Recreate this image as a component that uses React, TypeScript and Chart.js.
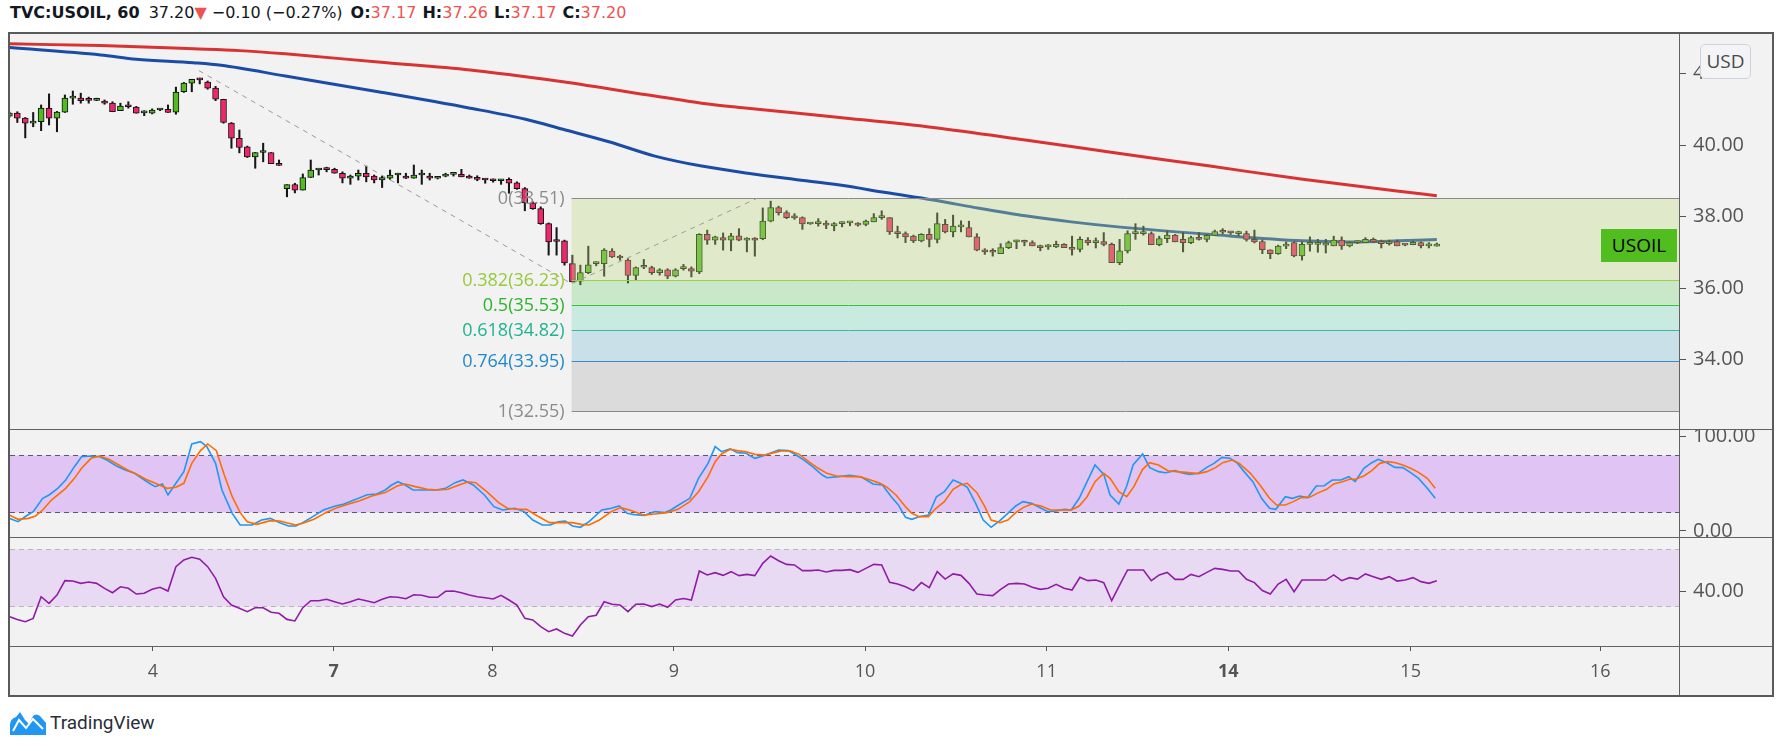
import React, { useEffect, useRef } from 'react';
import { Chart, registerables } from 'chart.js';

Chart.register(...registerables);

// ---------------- data ----------------
const candleOpen = [
  40.81, 40.89, 40.75, 40.61, 40.65, 41.03, 40.75, 40.92, 41.31, 41.31,
  41.27, 41.25, 41.23, 41.17, 40.96, 41.08, 41.06, 40.90, 40.89, 40.98,
  41.00, 40.92, 41.49, 41.73, 41.83, 41.76, 41.59, 41.28, 40.61, 40.19,
  39.95, 39.67, 39.79, 39.79, 39.48, 38.78, 38.89, 38.74, 39.09, 39.30,
  39.32, 39.32, 39.21, 39.07, 39.13, 39.21, 39.13, 39.02, 39.07, 39.16,
  39.13, 39.07, 39.16, 39.13, 39.07, 39.13, 39.18, 39.18, 39.13, 39.06,
  39.04, 39.02, 39.00, 39.04, 38.94, 38.78, 38.38, 38.22, 37.80, 37.31,
  37.32, 36.68, 36.19, 36.43, 36.68, 36.68, 37.03, 36.87, 36.78, 36.35,
  36.58, 36.57, 36.43, 36.51, 36.33, 36.54, 36.54, 36.45, 37.50, 37.34,
  37.41, 37.34, 37.46, 37.34, 37.38, 37.38, 37.87, 38.25, 38.11, 38.01,
  37.97, 37.79, 37.80, 37.80, 37.74, 37.80, 37.82, 37.80, 37.78, 37.85,
  37.97, 37.97, 37.57, 37.52, 37.45, 37.32, 37.50, 37.36, 37.78, 37.57,
  37.71, 37.69, 37.43, 37.07, 37.01, 36.96, 37.13, 37.29, 37.29, 37.27,
  37.19, 37.15, 37.15, 37.22, 37.13, 37.08, 37.34, 37.27, 37.30, 37.22,
  36.71, 37.04, 37.52, 37.52, 37.52, 37.21, 37.38, 37.48, 37.36, 37.27,
  37.41, 37.36, 37.47, 37.57, 37.55, 37.52, 37.52, 37.36, 37.30, 37.07,
  36.96, 37.17, 37.27, 36.90, 37.22, 37.22, 37.20, 37.18, 37.34, 37.18,
  37.27, 37.27, 37.36, 37.31, 37.24, 37.30, 37.21, 37.21, 37.27, 37.18,
  37.17,
];
const candleHigh = [
  40.92, 40.93, 40.77, 40.91, 41.12, 41.43, 40.94, 41.40, 41.51, 41.45,
  41.34, 41.31, 41.26, 41.21, 41.17, 41.21, 41.08, 40.96, 41.01, 41.01,
  41.12, 41.62, 41.75, 41.84, 41.87, 41.79, 41.64, 41.28, 40.63, 40.42,
  39.97, 39.79, 40.05, 39.79, 39.58, 38.89, 38.93, 39.19, 39.58, 39.33,
  39.38, 39.35, 39.25, 39.16, 39.30, 39.41, 39.16, 39.13, 39.30, 39.21,
  39.21, 39.44, 39.30, 39.21, 39.09, 39.21, 39.23, 39.32, 39.16, 39.14,
  39.05, 39.05, 39.04, 39.08, 38.97, 38.81, 38.41, 38.27, 37.82, 37.69,
  37.34, 36.92, 36.64, 37.17, 36.73, 37.10, 37.10, 36.92, 36.82, 36.59,
  36.80, 36.61, 36.54, 36.54, 36.54, 36.66, 36.59, 37.52, 37.62, 37.45,
  37.54, 37.53, 37.66, 37.41, 37.41, 38.24, 38.43, 38.29, 38.16, 38.08,
  37.99, 37.80, 37.94, 37.88, 37.83, 37.85, 37.85, 37.83, 37.90, 38.08,
  38.16, 37.97, 37.73, 37.57, 37.48, 37.52, 37.66, 38.10, 37.92, 38.04,
  37.88, 37.87, 37.52, 37.10, 37.10, 37.24, 37.31, 37.34, 37.34, 37.32,
  37.20, 37.22, 37.31, 37.24, 37.45, 37.43, 37.41, 37.40, 37.55, 37.26,
  37.36, 37.60, 37.80, 37.73, 37.57, 37.45, 37.60, 37.50, 37.55, 37.45,
  37.55, 37.50, 37.62, 37.66, 37.58, 37.59, 37.59, 37.62, 37.34, 37.07,
  37.20, 37.29, 37.29, 37.29, 37.43, 37.36, 37.36, 37.45, 37.43, 37.29,
  37.32, 37.41, 37.40, 37.34, 37.34, 37.34, 37.24, 37.31, 37.29, 37.27,
  37.26,
];
const candleLow = [
  40.78, 40.63, 40.20, 40.51, 40.40, 40.56, 40.37, 40.91, 41.14, 41.17,
  41.17, 41.24, 41.14, 40.93, 40.96, 41.03, 40.89, 40.82, 40.87, 40.96,
  40.91, 40.86, 41.47, 41.49, 41.71, 41.56, 41.24, 40.61, 39.91, 39.78,
  39.65, 39.35, 39.53, 39.48, 39.43, 38.55, 38.66, 38.74, 39.09, 39.16,
  39.25, 39.21, 38.94, 38.90, 39.02, 38.97, 38.94, 38.81, 39.04, 38.94,
  39.06, 39.07, 38.90, 39.02, 39.05, 39.11, 39.13, 39.11, 39.07, 39.00,
  38.93, 38.96, 38.90, 38.65, 38.76, 38.16, 38.20, 37.78, 36.92, 36.92,
  36.64, 36.17, 36.09, 36.40, 36.62, 36.33, 36.85, 36.78, 36.14, 36.23,
  36.54, 36.38, 36.36, 36.26, 36.31, 36.50, 36.31, 36.40, 37.22, 37.22,
  37.06, 37.04, 37.32, 37.01, 36.89, 37.35, 37.85, 38.04, 37.94, 37.92,
  37.64, 37.78, 37.73, 37.66, 37.60, 37.71, 37.74, 37.73, 37.74, 37.85,
  37.92, 37.50, 37.40, 37.27, 37.27, 37.29, 37.15, 37.26, 37.54, 37.43,
  37.57, 37.43, 37.04, 36.94, 36.89, 36.96, 37.10, 37.10, 37.18, 37.18,
  37.04, 37.08, 37.13, 37.13, 36.92, 37.01, 37.20, 37.12, 37.18, 36.71,
  36.65, 36.98, 37.36, 37.48, 37.21, 37.18, 37.27, 37.29, 37.01, 37.24,
  37.34, 37.29, 37.47, 37.52, 37.50, 37.46, 37.31, 37.26, 36.96, 36.82,
  36.94, 37.10, 36.87, 36.78, 37.03, 37.00, 36.98, 37.18, 37.08, 37.15,
  37.24, 37.27, 37.27, 37.12, 37.20, 37.18, 37.18, 37.21, 37.12, 37.12,
  37.17,
];
const candleClose = [
  40.89, 40.75, 40.61, 40.67, 41.03, 40.75, 40.92, 41.31, 41.32, 41.24,
  41.25, 41.26, 41.17, 40.93, 41.09, 41.07, 40.89, 40.91, 40.98, 40.98,
  40.91, 41.48, 41.73, 41.84, 41.82, 41.59, 41.28, 40.63, 40.19, 39.93,
  39.67, 39.79, 39.80, 39.48, 39.43, 38.89, 38.74, 39.09, 39.30, 39.31,
  39.31, 39.21, 39.07, 39.13, 39.21, 39.11, 39.02, 39.09, 39.16, 39.17,
  39.07, 39.16, 39.17, 39.07, 39.07, 39.19, 39.18, 39.11, 39.07, 39.04,
  39.02, 39.00, 39.00, 38.93, 38.78, 38.38, 38.22, 37.80, 37.29, 37.30,
  36.70, 36.17, 36.43, 36.65, 36.69, 37.06, 36.87, 36.84, 36.35, 36.57,
  36.59, 36.43, 36.51, 36.33, 36.51, 36.55, 36.47, 37.50, 37.34, 37.43,
  37.34, 37.46, 37.34, 37.38, 37.34, 37.87, 38.25, 38.11, 37.97, 37.96,
  37.79, 37.79, 37.80, 37.76, 37.80, 37.80, 37.82, 37.76, 37.87, 37.97,
  37.97, 37.57, 37.52, 37.43, 37.32, 37.50, 37.36, 37.80, 37.57, 37.73,
  37.71, 37.43, 37.06, 37.01, 37.00, 37.13, 37.27, 37.29, 37.28, 37.18,
  37.13, 37.15, 37.22, 37.13, 37.08, 37.36, 37.27, 37.27, 37.22, 36.71,
  37.04, 37.52, 37.52, 37.52, 37.21, 37.38, 37.48, 37.29, 37.27, 37.41,
  37.36, 37.47, 37.58, 37.56, 37.54, 37.52, 37.36, 37.29, 37.07, 36.96,
  37.17, 37.18, 36.90, 37.22, 37.22, 37.22, 37.20, 37.34, 37.18, 37.27,
  37.27, 37.36, 37.29, 37.24, 37.30, 37.18, 37.20, 37.28, 37.18, 37.18,
  37.20,
];

// moving averages, sampled along the drawn curves: [bar, price]
const maSlow = [
  [-0.2, 42.83], [11.5, 42.78], [23.2, 42.69], [29.0, 42.64], [34.8, 42.55], [46.5, 42.32],
  [58.1, 42.10], [65.1, 41.91], [69.8, 41.77], [81.4, 41.37], [87.3, 41.17], [93.1, 41.03],
  [104.7, 40.77], [116.5, 40.49], [128.1, 40.14], [139.8, 39.77], [151.4, 39.41],
  [163.1, 39.04], [174.7, 38.72], [180.0, 38.58],
];
const maFast = [
  [-0.2, 42.73], [11.5, 42.52], [16.0, 42.40], [23.2, 42.30], [26.7, 42.23], [34.8, 41.93],
  [46.5, 41.49], [58.1, 41.03], [65.1, 40.72], [69.8, 40.44], [75.6, 40.09], [81.4, 39.69],
  [87.3, 39.41], [93.1, 39.21], [98.9, 39.04], [104.7, 38.88], [110.5, 38.67], [116.5, 38.46],
  [122.3, 38.23], [128.1, 38.02], [133.9, 37.85], [139.8, 37.71], [151.4, 37.50],
  [163.1, 37.32], [168.9, 37.29], [180.0, 37.36],
];

// stochastic %K and %D: [bar, value]
const stochK = [
  [0, 13.3], [1.1, 9.8], [2.1, 15.8], [3, 20.4], [4.2, 34.4], [5, 37.9], [6.1, 44.9], [7.1, 53.7],
  [8.2, 67.7], [9.1, 78.2], [10.3, 78.9], [11.4, 78.2], [12.3, 74.7], [13.5, 68.4], [14.6, 64.2],
  [15.8, 60.7], [16.7, 55.4], [17.8, 49.5], [18.4, 46.7], [19.3, 49.5], [20, 37.9], [21, 50.2],
  [22, 62.5], [23, 91.6], [24.1, 94], [24.9, 88.8], [26, 71.2], [26.8, 43.2], [28.1, 18.6],
  [29.1, 6.3], [30.6, 6.3], [31.8, 11.6], [32.9, 13.3], [34.1, 8.8], [35.2, 5.3], [36.1, 5.3],
  [37, 8.8], [38.1, 14.4], [39.6, 22.1], [41.1, 26.3], [42.2, 28.4], [43.7, 33.3], [45.1, 38.2],
  [46.3, 38.9], [47.4, 43.2], [48.2, 48.4], [49, 51.9], [49.9, 48.4], [50.9, 43.2], [52.1, 43.2],
  [53.8, 43.2], [55, 44.9], [56.2, 50.9], [57.2, 53.7], [58.5, 48.4], [59.9, 37.9], [61.1, 25.6],
  [62.2, 22.1], [63.7, 23.9], [64.9, 20.4], [66, 11.6], [67.2, 6.3], [68.2, 6.3], [69.2, 9.8],
  [70.1, 10.5], [71, 5.3], [72, 3.9], [73.1, 9.8], [74.7, 22.1], [75.9, 23.9], [76.9, 26.3],
  [77.9, 18.6], [78.8, 17.2], [80.1, 16.5], [81.4, 20.4], [82.6, 19.3], [83.4, 22.1], [84.6, 28.4],
  [85.8, 34.4], [86.9, 55.4], [88.1, 71.2], [89, 88.8], [89.8, 83.5], [90.9, 86.5],
  [91.8, 82.5], [92.9, 81.8], [94, 76.5], [95, 78.9], [96.1, 82.5], [97, 85.3], [98.2, 84.6],
  [99, 81.1], [100.2, 74.7], [101.4, 67], [102.5, 58.9], [103.1, 56.1], [104.6, 57.2], [106, 58.6],
  [107.5, 56.5], [108.9, 49.5], [110.1, 48.4], [111.2, 36.1], [112.1, 27.4], [113, 14.4],
  [113.8, 12.3], [114.7, 15.1], [115.9, 16.8], [116.9, 36.1], [117.9, 41.4], [119, 53.7],
  [119.8, 50.9], [120.8, 46], [121.8, 29.8], [122.8, 11.6], [123.8, 3.9], [124.9, 10.9],
  [125.9, 18.6], [126.9, 26.3], [127.8, 30.9], [128.9, 29.1], [130.1, 23.9], [131, 20.4],
  [132, 21.1], [133, 22.8], [133.9, 22.1], [134.9, 34.4], [135.9, 51.9], [136.9, 69.5], [138, 59.6],
  [138.8, 37.9], [139.9, 28.4], [140.9, 47.4], [141.7, 69.5], [142.9, 81.1], [143.8, 66.7],
  [144.9, 62.5], [145.8, 61.4], [147, 63.5], [147.8, 61.4], [148.8, 59.6], [149.9, 60.7], [151, 67],
  [151.9, 71.2], [152.9, 77.5], [153.9, 76.5], [154.8, 71.9], [155.7, 62.5], [156.8, 51.9],
  [157.9, 34.4], [158.9, 23.9], [159.7, 22.8], [160.9, 36.1], [161.8, 34.4], [162.7, 36.8],
  [163.7, 35.1], [164.8, 47.4], [165.8, 47.7], [166.8, 53.7], [167.9, 53.7], [168.9, 57.2],
  [169.7, 51.9], [170.8, 66], [171.8, 71.9], [172.6, 75.4], [173.7, 71.9], [174.7, 67], [175.7, 66.7],
  [176.7, 61.4], [177.7, 55.4], [178.8, 44.9], [179.8, 34.4],
];
const stochD = [
  [0, 16.8], [1.1, 12.3], [2.4, 13.3], [3.3, 15.8], [4.2, 22.1], [5.3, 32.6], [7.1, 44.9], [8.2, 55.4],
  [9.1, 66], [10.3, 76.5], [11.4, 78.9], [12.6, 75.4], [13.8, 69.5], [14.9, 64.2], [16.1, 59.6],
  [17.2, 54.4], [18.4, 50.2], [19.9, 44.9], [21, 46], [22, 50.2], [23, 71.2], [24.1, 84.6], [25, 91.6],
  [26.1, 84.6], [27.1, 58.9], [28.1, 36.1], [29.1, 19.3], [30, 9.8], [31.2, 7], [32.9, 10.9],
  [34.1, 10.5], [35.2, 8.1], [36.1, 6.3], [37, 8.1], [38.4, 12.3], [39.9, 19.3], [41.3, 24.6],
  [42.8, 28.4], [44.2, 31.9], [45.7, 36.8], [47.4, 40.4], [48.9, 47.4], [49.9, 49.5], [51.2, 46.7],
  [52.7, 43.9], [54.1, 43.2], [55.3, 43.9], [56.7, 48.4], [57.9, 51.9], [58.8, 50.9], [60.2, 41.4],
  [61.7, 29.8], [62.8, 23.9], [63.7, 23.2], [65.2, 22.8], [66.6, 15.8], [68.1, 8.8], [69.5, 8.8],
  [71, 8.8], [72.1, 7], [73.1, 6.3], [74.4, 11.6], [75.9, 20.4], [77.1, 24.6], [78.2, 22.1], [80, 16.8],
  [81.4, 17.9], [82.9, 19.3], [84.3, 22.8], [85.8, 30.9], [86.9, 41.4], [88.1, 57.2], [89, 73],
  [89.8, 81.1], [90.9, 86], [91.8, 84.6], [92.9, 83.5], [94, 80.7], [95.3, 80], [96.4, 82.5],
  [97.3, 84.2], [98.5, 84.2], [99.6, 80.7], [100.8, 73], [102, 66], [103.1, 60.7], [104.3, 57.9],
  [105.7, 57.2], [107.2, 57.2], [108.3, 54.4], [109.8, 50.2], [110.7, 46], [111.8, 37.9], [113, 25.6],
  [113.8, 18.6], [114.7, 15.1], [115.9, 15.1], [116.7, 22.8], [117.9, 30.9], [119, 43.9], [119.9, 48.4],
  [120.8, 50.2], [122, 40.4], [123, 25.6], [123.8, 11.6], [124.9, 8.8], [125.9, 11.6], [126.9, 19.3],
  [127.9, 24.9], [128.9, 28.4], [130.1, 26.3], [131.3, 22.1], [132.7, 22.1], [133.9, 22.1],
  [134.9, 26.3], [135.9, 36.1], [136.9, 51.9], [138, 60.7], [138.8, 55.4], [139.9, 41.4], [140.9, 36.1],
  [141.8, 46.7], [142.9, 64.9], [143.8, 71.9], [144.9, 69.5], [146.1, 63.5], [147.2, 62.5],
  [148.7, 61.4], [149.9, 60.4], [151, 62.5], [152.1, 66.7], [153, 71.9], [154.2, 74.7], [155.1, 71.2],
  [156.5, 60.7], [157.7, 48.4], [158.9, 34.4], [159.8, 27.4], [160.9, 27.4], [161.9, 30.9],
  [162.9, 35.1], [163.9, 35.4], [164.9, 39.6], [166.1, 43.9], [167, 49.5], [168.1, 51.9], [169, 54.4],
  [169.7, 54.4], [170.8, 57.9], [171.8, 63.5], [172.8, 71.2], [173.8, 73], [174.8, 71.9], [175.7, 69.5],
  [176.7, 66], [177.7, 61.7], [178.8, 55.4], [179.8, 44.9],
];

// RSI, one value per bar
const rsiValues = [
  22.5, 20.6, 19.0, 21.3, 36.5, 31.9, 37.7, 47.8, 47.5, 45.9,
  46.8, 45.9, 42.4, 39.3, 43.5, 42.4, 38.4, 38.9, 41.7, 43.1,
  40.5, 57.6, 62.3, 64.2, 62.8, 57.6, 49.4, 36.5, 30.7, 28.4,
  26.0, 28.8, 28.8, 25.6, 24.9, 20.6, 19.5, 28.8, 33.7, 33.7,
  34.7, 33.0, 31.4, 33.0, 34.9, 33.7, 32.3, 34.7, 36.5, 36.1,
  35.1, 37.9, 37.5, 36.1, 36.1, 40.3, 40.5, 39.3, 37.7, 36.5,
  35.8, 34.9, 37.5, 34.2, 30.7, 21.3, 20.2, 15.5, 12.0, 13.9,
  10.8, 8.9, 16.7, 22.5, 23.5, 33.0, 31.2, 30.7, 26.0, 31.2,
  31.4, 29.6, 31.4, 29.1, 34.2, 35.3, 34.2, 54.6, 51.8, 53.4,
  51.5, 54.1, 51.3, 52.2, 51.3, 59.9, 65.1, 61.8, 59.2, 58.8,
  54.8, 54.8, 55.3, 53.9, 55.0, 55.0, 55.5, 53.6, 56.4, 59.2,
  58.8, 46.6, 45.4, 43.5, 40.8, 46.4, 42.9, 54.1, 48.9, 52.5,
  51.5, 45.9, 38.4, 37.7, 37.3, 41.7, 45.4, 45.9, 45.4, 43.1,
  41.7, 42.4, 45.2, 42.4, 41.2, 50.1, 47.8, 48.2, 46.4, 33.7,
  44.7, 55.3, 55.3, 55.3, 47.8, 51.8, 53.6, 48.7, 48.7, 52.2,
  50.6, 53.6, 56.4, 55.7, 54.6, 54.6, 48.7, 46.4, 40.8, 38.4,
  45.4, 48.7, 40.0, 48.2, 48.2, 48.2, 48.2, 51.8, 47.8, 49.9,
  48.9, 52.5, 50.6, 48.7, 50.6, 47.5, 48.2, 49.9, 47.1, 45.9,
  47.8,
];

// axes
const dayTickBars = [18.1, 40.9, 60.9, 83.8, 107.9, 130.8, 153.7, 176.7, 200.6];
const dayTickLabels = ['4', '7', '8', '9', '10', '11', '14', '15', '16'];
const boldDayLabels = ['7', '14'];
const priceTicks = [34, 36, 38, 40, 42];
const stochTicks = [0, 100];
const rsiTicks = [40];

// trend-based fib extension
const fibRatios = [0, 0.382, 0.5, 0.618, 0.764, 1];
const fibPrices = [38.51, 36.23, 35.53, 34.82, 33.95, 32.55];
const trendBars = [23.9, 70.9, 94.3];
const trendPrices = [42.08, 36.12, 38.51];

// ---------------- layout & style ----------------
const FONT = "'Open Sans', 'Noto Sans', sans-serif";
const TITLE_FONT = "'DejaVu Sans', 'Open Sans', sans-serif";
const X_MIN = 0.076;
const X_MAX = 210.54;
const CANVAS_W = 1762;
const AXIS_W = 93;
const AXIS_COLOR = '#555555';

const fibZoneFill = [
  'rgba(191,222,128,0.35)',
  'rgba(125,216,125,0.35)',
  'rgba(122,221,188,0.35)',
  'rgba(125,191,219,0.35)',
  'rgba(179,179,179,0.35)',
];
const fibLineColors = ['#8a8a8a', '#a3cc45', '#33c433', '#37bb98', '#3a8ec8', '#8a8a8a'];
const fibLabelColors = ['#8c8c8c', '#98c93c', '#2bb52b', '#1db38f', '#2289c9', '#8c8c8c'];

const fibPlugin = {
  id: 'fibExt',
  afterDatasetsDraw(chart: any) {
    const { ctx, chartArea, scales } = chart;
    const x = scales.x;
    const y = scales.y;
    const xL = x.getPixelForValue(trendBars[1]);
    const xR = chartArea.right;
    ctx.save();
    ctx.beginPath();
    ctx.rect(chartArea.left, chartArea.top, chartArea.width, chartArea.height);
    ctx.clip();
    for (let k = 0; k < fibPrices.length - 1; k++) {
      const y1 = y.getPixelForValue(fibPrices[k]);
      const y2 = y.getPixelForValue(fibPrices[k + 1]);
      ctx.fillStyle = fibZoneFill[k];
      ctx.fillRect(xL, y1, xR - xL, y2 - y1);
    }
    ctx.lineWidth = 1;
    for (let k = 0; k < fibPrices.length; k++) {
      const yy = Math.round(y.getPixelForValue(fibPrices[k])) + 0.5;
      ctx.strokeStyle = fibLineColors[k];
      ctx.beginPath();
      ctx.moveTo(xL, yy);
      ctx.lineTo(xR, yy);
      ctx.stroke();
    }
    // dashed trend lines
    ctx.strokeStyle = '#9a9a9a';
    ctx.setLineDash([5, 5]);
    ctx.beginPath();
    for (let k = 0; k < trendBars.length; k++) {
      const px = x.getPixelForValue(trendBars[k]);
      const py = y.getPixelForValue(trendPrices[k]);
      if (k === 0) ctx.moveTo(px, py);
      else ctx.lineTo(px, py);
    }
    ctx.stroke();
    ctx.setLineDash([]);
    // labels
    ctx.font = `18px ${FONT}`;
    ctx.textAlign = 'right';
    ctx.textBaseline = 'middle';
    for (let k = 0; k < fibPrices.length; k++) {
      const yy = y.getPixelForValue(fibPrices[k]);
      ctx.fillStyle = fibLabelColors[k];
      ctx.fillText(`${fibRatios[k]}(${fibPrices[k].toFixed(2)})`, xL - 7, yy + 1);
    }
    ctx.restore();
  },
};

function makeBandPlugin(lo: number, hi: number, fill: string, dash: string) {
  return {
    id: 'band' + lo + hi,
    beforeDatasetsDraw(chart: any) {
      const { ctx, chartArea, scales } = chart;
      const y = scales.y;
      const yHi = Math.round(y.getPixelForValue(hi)) + 0.5;
      const yLo = Math.round(y.getPixelForValue(lo)) + 0.5;
      ctx.save();
      ctx.fillStyle = fill;
      ctx.fillRect(chartArea.left, yHi, chartArea.width, yLo - yHi);
      ctx.strokeStyle = dash;
      ctx.lineWidth = 1;
      ctx.setLineDash([5, 4]);
      [yHi, yLo].forEach((yy) => {
        ctx.beginPath();
        ctx.moveTo(chartArea.left, yy);
        ctx.lineTo(chartArea.right, yy);
        ctx.stroke();
      });
      ctx.restore();
    },
  };
}

function noPadding(s: any) {
  s.paddingTop = 0;
  s.paddingBottom = 0;
  s.paddingLeft = 0;
  s.paddingRight = 0;
}

function yAxis(min: number, max: number, ticks: number[]) {
  return {
    type: 'linear',
    position: 'right',
    min,
    max,
    afterBuildTicks: (s: any) => {
      s.ticks = ticks.map((v) => ({ value: v }));
    },
    afterFit: (s: any) => {
      s.width = AXIS_W;
      noPadding(s);
    },
    grid: { display: true, drawOnChartArea: false, drawTicks: true, tickLength: 7, tickColor: AXIS_COLOR, tickWidth: 1 },
    border: { display: false },
    ticks: {
      color: AXIS_COLOR,
      padding: 7,
      font: { family: FONT, size: 20 },
      callback: (v: number) => Number(v).toFixed(2),
    },
  };
}

const hiddenX = { type: 'linear', min: X_MIN, max: X_MAX, offset: false, display: false };

const baseOptions = {
  responsive: false,
  animation: false,
  events: [],
  layout: { padding: 0 },
  plugins: { legend: { display: false }, tooltip: { enabled: false } },
};

const pairs = (arr: number[][]) => arr.map(([x, y]) => ({ x, y }));

export default function App() {
  const mainRef = useRef<HTMLCanvasElement>(null);
  const stochRef = useRef<HTMLCanvasElement>(null);
  const rsiRef = useRef<HTMLCanvasElement>(null);

  useEffect(() => {
    const bars = candleOpen.map((_, i) => i);
    const bodyColors = bars.map((i) => (candleClose[i] >= candleOpen[i] ? '#52ba22' : '#f0266c'));

    const main = new Chart(mainRef.current as HTMLCanvasElement, {
      type: 'bar',
      data: {
        datasets: [
          {
            type: 'bar',
            data: bars.map((i) => ({ x: i, y: [candleOpen[i], candleClose[i]] })),
            backgroundColor: bodyColors,
            borderColor: '#141414',
            borderWidth: 1,
            borderSkipped: false,
            barThickness: 6,
            minBarLength: 2,
            grouped: false,
            order: 1,
          },
          {
            type: 'bar',
            data: bars.map((i) => ({ x: i, y: [candleLow[i], candleHigh[i]] })),
            backgroundColor: '#161616',
            borderWidth: 0,
            barThickness: 1.4,
            grouped: false,
            order: 2,
          },
          {
            type: 'line',
            data: pairs(maSlow),
            borderColor: '#d83232',
            borderWidth: 3,
            pointRadius: 0,
            cubicInterpolationMode: 'monotone',
            order: 5,
          },
          {
            type: 'line',
            data: pairs(maFast),
            borderColor: '#1b4ca5',
            borderWidth: 3,
            pointRadius: 0,
            cubicInterpolationMode: 'monotone',
            order: 4,
          },
        ],
      } as any,
      options: {
        ...baseOptions,
        scales: { x: hiddenX, y: yAxis(32.056, 43.133, priceTicks) },
      } as any,
      plugins: [fibPlugin],
    });

    const stoch = new Chart(stochRef.current as HTMLCanvasElement, {
      type: 'line',
      data: {
        datasets: [
          { data: pairs(stochD), borderColor: '#ff6d00', borderWidth: 1.6, pointRadius: 0, order: 1 },
          { data: pairs(stochK), borderColor: '#2196f3', borderWidth: 1.6, pointRadius: 0, order: 2 },
        ],
      } as any,
      options: {
        ...baseOptions,
        scales: { x: hiddenX, y: yAxis(-6.32, 107.37, stochTicks) },
      } as any,
      plugins: [makeBandPlugin(20, 80, '#e0c5f4', '#5f5570')],
    });

    const rsi = new Chart(rsiRef.current as HTMLCanvasElement, {
      type: 'line',
      data: {
        datasets: [
          { data: rsiValues.map((v, i) => ({ x: i, y: v })), borderColor: '#901ca6', borderWidth: 1.6, pointRadius: 0 },
        ],
      } as any,
      options: {
        ...baseOptions,
        scales: {
          x: {
            type: 'linear',
            min: X_MIN,
            max: X_MAX,
            offset: false,
            position: 'bottom',
            afterBuildTicks: (s: any) => {
              s.ticks = dayTickBars.map((v) => ({ value: v }));
            },
            afterFit: (s: any) => {
              s.height = 50;
              noPadding(s);
            },
            grid: { display: true, drawOnChartArea: false, drawTicks: true, tickLength: 5, tickColor: AXIS_COLOR },
            border: { display: false },
            ticks: {
              autoSkip: false,
              maxRotation: 0,
              padding: 10,
              color: AXIS_COLOR,
              font: (c: any) => ({
                family: FONT,
                size: 18,
                weight: boldDayLabels.includes(dayTickLabels[c.index]) ? 'bold' : 'normal',
              }),
              callback: (_v: number, idx: number) => dayTickLabels[idx],
            },
          },
          y: yAxis(1.93, 78.42, rsiTicks),
        },
      } as any,
      plugins: [makeBandPlugin(30, 70, '#e8daf3', '#b8b3bd')],
    });

    return () => {
      main.destroy();
      stoch.destroy();
      rsi.destroy();
    };
  }, []);

  const abs = (l: number, t: number, w: number, h: number, extra: any = {}) => ({
    position: 'absolute' as const,
    left: l,
    top: t,
    width: w,
    height: h,
    ...extra,
  });
  const red = { color: '#ef5350' };
  const lab = { fontWeight: 'bold', color: '#131722' };

  return (
    <div style={abs(0, 0, 1783, 751, { background: '#ffffff', overflow: 'hidden', fontFamily: FONT })}>
      {/* title */}
      <div
        style={abs(10, 3, 900, 22, {
          fontFamily: TITLE_FONT,
          fontSize: 16,
          lineHeight: '20px',
          color: '#131722',
          whiteSpace: 'nowrap',
        })}
      >
        <span style={lab}>TVC:USOIL, 60</span>
        <span style={{ marginLeft: 9 }}>37.20</span>
        <span style={red}>▼</span>
        <span style={{ marginLeft: 5 }}>−0.10 (−0.27%)</span>
        <span style={{ ...lab, marginLeft: 8 }}>O:</span>
        <span style={red}>37.17</span>
        <span style={{ ...lab, marginLeft: 6 }}>H:</span>
        <span style={red}>37.26</span>
        <span style={{ ...lab, marginLeft: 6 }}>L:</span>
        <span style={red}>37.17</span>
        <span style={{ ...lab, marginLeft: 6 }}>C:</span>
        <span style={red}>37.20</span>
      </div>

      {/* pane background */}
      <div style={abs(8, 32, 1766, 665, { background: '#f2f2f2' })} />

      <canvas ref={mainRef} width={CANVAS_W} height={396} style={abs(10, 33, CANVAS_W, 396, { display: 'block' })} />
      <canvas ref={stochRef} width={CANVAS_W} height={108} style={abs(10, 429, CANVAS_W, 108, { display: 'block' })} />
      <canvas ref={rsiRef} width={CANVAS_W} height={159} style={abs(10, 537, CANVAS_W, 159, { display: 'block' })} />

      {/* separators */}
      <div style={abs(10, 429, 1762, 1, { background: '#626262' })} />
      <div style={abs(10, 537, 1762, 1, { background: '#626262' })} />
      <div style={abs(10, 646, 1762, 1, { background: '#626262' })} />
      <div style={abs(1679, 34, 1, 661, { background: '#626262' })} />
      {/* frame */}
      <div style={abs(8, 32, 1766, 665, { border: '2px solid #5a5a5a', boxSizing: 'border-box' })} />

      {/* currency badge */}
      <div
        style={abs(1700, 44, 51, 35, {
          boxSizing: 'border-box',
          border: '1px solid #cfd1dc',
          borderRadius: 5,
          background: '#f4f4f6',
          color: '#4a4a4a',
          fontSize: 19,
          lineHeight: '33px',
          textAlign: 'center',
        })}
      >
        USD
      </div>

      {/* symbol label */}
      <div
        style={abs(1601, 229, 76, 33, {
          background: '#51bd1f',
          color: '#000000',
          fontSize: 19,
          lineHeight: '33px',
          textAlign: 'center',
        })}
      >
        USOIL
      </div>

      {/* logo */}
      <svg style={abs(9, 711, 38, 25)} viewBox="0 0 38 25">
        <path d="M1 24 L1 14 Q1 8 7 6 L11 1 L16 9 L20 13 L24 5 Q27 2 31 5 L37 12 L37 24 Z" fill="#2196f3" />
        <path d="M4 20 L10 9 L17 17 L24 8 L34 18" stroke="#ffffff" strokeWidth="2" fill="none" />
      </svg>
      <div
        style={abs(50, 710, 200, 26, {
          fontFamily: 'Roboto, sans-serif',
          fontSize: 19,
          lineHeight: '26px',
          color: '#2a2e39',
        })}
      >
        TradingView
      </div>
    </div>
  );
}
